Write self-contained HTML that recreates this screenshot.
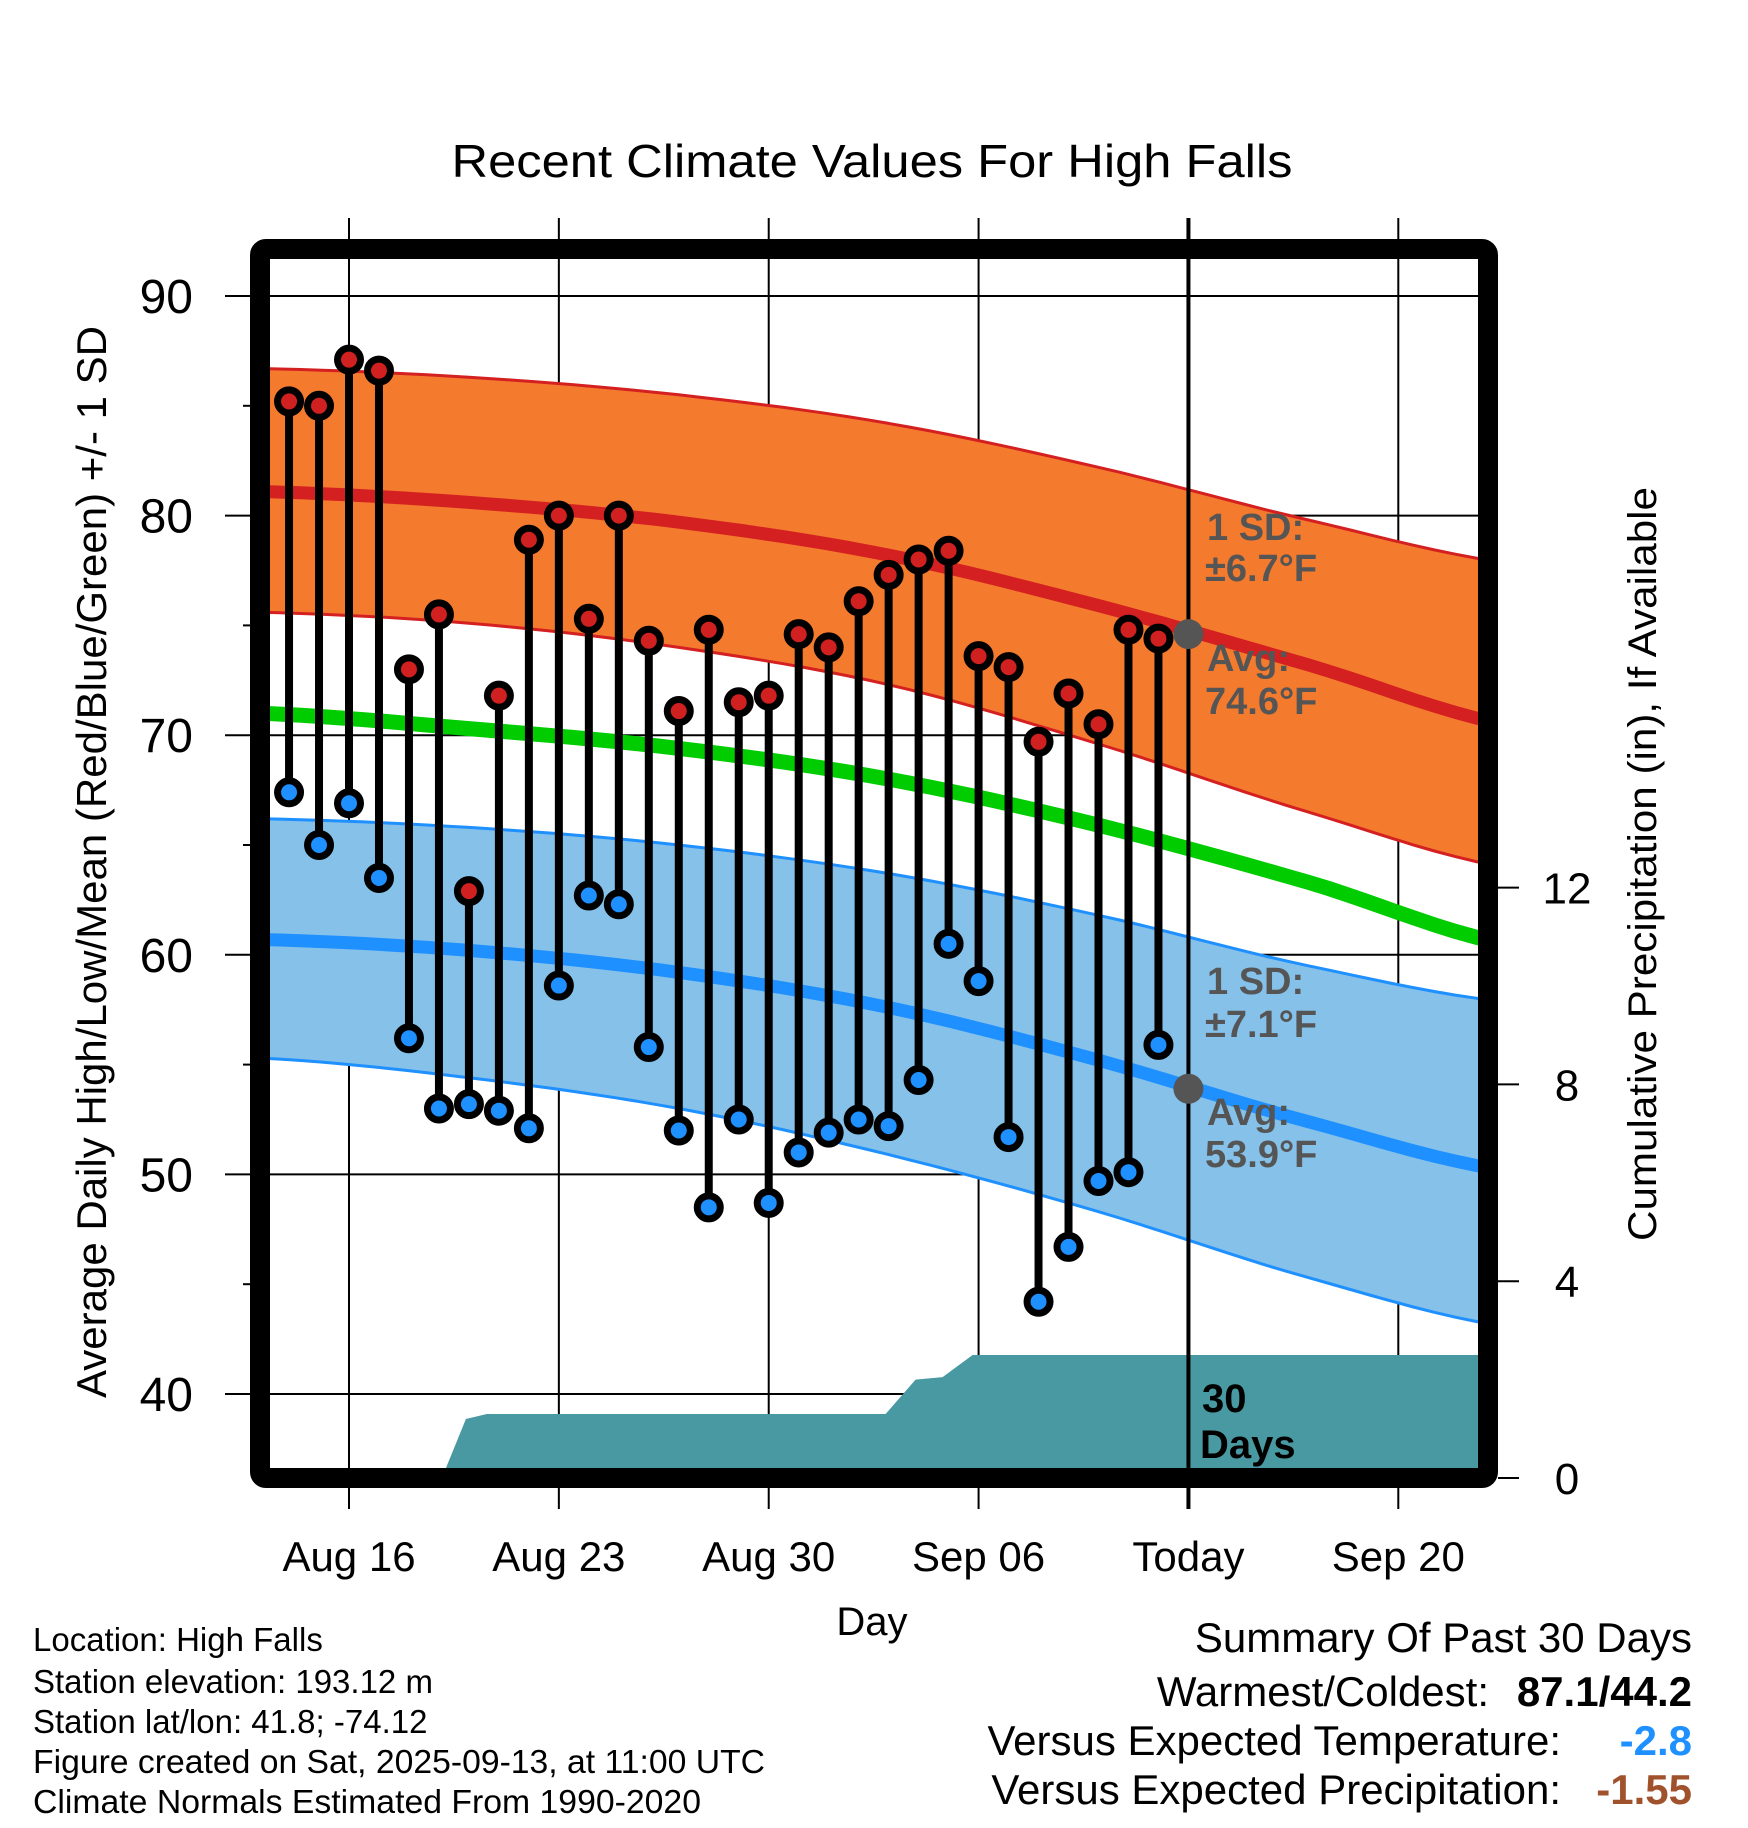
<!DOCTYPE html>
<html><head><meta charset="utf-8"><style>
html,body{margin:0;padding:0;background:#fff;}
svg{display:block;font-family:"Liberation Sans",Arial,sans-serif;}
</style></head><body>
<svg id="chart" width="1748" height="1828" viewBox="0 0 1748 1828" xmlns="http://www.w3.org/2000/svg">
<defs><clipPath id="plotclip"><rect x="270" y="260" width="1208" height="1208"/></clipPath></defs>
<text x="872" y="177" font-size="46" text-anchor="middle" textLength="841" lengthAdjust="spacingAndGlyphs">Recent Climate Values For High Falls</text>
<g id="grid"></g>
<g id="plot" clip-path="url(#plotclip)"></g>
<g id="marks"></g>
<rect x="260" y="249" width="1228" height="1229" rx="6" fill="none" stroke="#000" stroke-width="20"/>
<g id="axes"></g>
<text transform="translate(106,862) rotate(-90)" font-size="42" text-anchor="middle" textLength="1072" lengthAdjust="spacingAndGlyphs">Average Daily High/Low/Mean (Red/Blue/Green) +/- 1 SD</text>
<text transform="translate(1656,864) rotate(-90)" font-size="40" text-anchor="middle" textLength="754" lengthAdjust="spacingAndGlyphs">Cumulative Precipitation (in), If Available</text>
<text x="872" y="1635" font-size="40" text-anchor="middle">Day</text>
<g font-size="38" font-weight="bold" fill="#555">
<text x="1207" y="540">1 SD:</text><text x="1205" y="581">±6.7°F</text>
<text x="1207" y="671">Avg:</text><text x="1205" y="714">74.6°F</text></g>
<g font-size="38" font-weight="bold" fill="#555">
<text x="1207" y="994">1 SD:</text><text x="1205" y="1037">±7.1°F</text>
<text x="1207" y="1125">Avg:</text><text x="1205" y="1167">53.9°F</text></g>
<g font-size="40" font-weight="bold" fill="#000">
<text x="1202" y="1412">30</text><text x="1200" y="1458">Days</text></g>
<g font-size="33" fill="#000">
<text x="33" y="1651">Location: High Falls</text>
<text x="33" y="1693">Station elevation: 193.12 m</text>
<text x="33" y="1733">Station lat/lon: 41.8; -74.12</text>
<text x="33" y="1773" textLength="732" lengthAdjust="spacingAndGlyphs">Figure created on Sat, 2025-09-13, at 11:00 UTC</text>
<text x="33" y="1813" textLength="668" lengthAdjust="spacingAndGlyphs">Climate Normals Estimated From 1990-2020</text></g>
<g font-size="42" fill="#000">
<text x="1692" y="1652" text-anchor="end">Summary Of Past 30 Days</text>
<text x="1489" y="1706" text-anchor="end">Warmest/Coldest:</text>
<text x="1692" y="1706" text-anchor="end" font-weight="bold">87.1/44.2</text>
<text x="1561" y="1755" text-anchor="end">Versus Expected Temperature:</text>
<text x="1692" y="1755" text-anchor="end" font-weight="bold" fill="#1e90ff">-2.8</text>
<text x="1561" y="1804" text-anchor="end">Versus Expected Precipitation:</text>
<text x="1692" y="1804" text-anchor="end" font-weight="bold" fill="#a0522d">-1.55</text></g>
</svg>
<script>
// days measured from Aug 16 (0)
const dayIdx = [-2,-1,0,1,2,3,4,5,6,7,8,9,10,11,12,13,14,15,16,17,18,19,20,21,22,23,24,25,26,27];
const highs = [85.2,85.0,87.1,86.6,73.0,75.5,62.9,71.8,78.9,80.0,75.3,80.0,74.3,71.1,74.8,71.5,71.8,74.6,74.0,76.1,77.3,78.0,78.4,73.6,73.1,69.7,71.9,70.5,74.8,74.4];
const lows = [67.4,65.0,66.9,63.5,56.2,53.0,53.2,52.9,52.1,58.6,62.7,62.3,55.8,52.0,48.5,52.5,48.7,51.0,51.9,52.5,52.2,54.3,60.5,58.8,51.7,44.2,46.7,49.7,50.1,55.9];
const normDays = [-3,4,11,18,25,32,39];
const hiMean = [81.1,80.6,79.7,78.2,75.9,73.2,70.4];
const hiUpper = [86.7,86.3,85.5,84.2,82.2,79.8,77.8];
const hiLower = [75.6,75.1,74.0,72.3,69.6,66.5,63.9];
const meanLine = [71.0,70.3,69.4,68.0,65.9,63.3,60.4];
const loMean = [60.7,60.2,59.2,57.6,55.2,52.4,50.1];
const loUpper = [66.2,65.8,65.0,63.7,61.8,59.5,57.8];
const loLower = [55.3,54.4,53.0,50.9,48.3,45.3,43.0];
const precipDays = [-2.7,3.1,3.9,4.6,17.9,18.9,19.8,20.8,37.8];
const precipVals = [0,0,1.2,1.3,1.3,2.0,2.05,2.5,2.5];
const xTickDays = [0,7,14,21,28,35];
const xTickLabels = ["Aug 16","Aug 23","Aug 30","Sep 06","Today","Sep 20"];
const yTicks = [40,50,60,70,80,90];
const y2Ticks = [0,4,8,12];
const todayDay = 28;
const todayHigh = 74.6, todayLow = 53.9;

const NS="http://www.w3.org/2000/svg";
const x = d => 349 + d*29.98;
const y = v => 296 + (90 - v)*21.96;
const y2 = p => 1478 - p*49.2;
function mk(tag, attrs, parent){const e=document.createElementNS(NS,tag);for(const k in attrs)e.setAttribute(k,attrs[k]);parent.appendChild(e);return e;}
const grid=document.getElementById('grid'), plot=document.getElementById('plot'), marks=document.getElementById('marks'), axes=document.getElementById('axes');

function curvePts(arr){
  const pts=[];
  const n=normDays.length;
  for(let i=0;i<n-1;i++){
    const p0=arr[Math.max(i-1,0)],p1=arr[i],p2=arr[i+1],p3=arr[Math.min(i+2,n-1)];
    for(let s=0;s<10;s++){
      const t=s/10;
      const v=0.5*((2*p1)+(-p0+p2)*t+(2*p0-5*p1+4*p2-p3)*t*t+(-p0+3*p1-3*p2+p3)*t*t*t);
      const d=normDays[i]+(normDays[i+1]-normDays[i])*t;
      pts.push(x(d).toFixed(1)+','+y(v).toFixed(1));
    }
  }
  pts.push(x(normDays[n-1]).toFixed(1)+','+y(arr[n-1]).toFixed(1));
  return pts;
}
function bandPath(up,lo){const a=curvePts(up), b=curvePts(lo).reverse();return 'M'+a.join('L')+'L'+b.join('L')+'Z';}

let e;
e=mk('path',{d:bandPath(hiUpper,hiLower),fill:'#f47a2e'},plot);


e=mk('path',{d:bandPath(loUpper,loLower),fill:'#85c1e9'},plot);


[[hiUpper,'#d42020',3,'high-band-upper'],[hiLower,'#d42020',3,'high-band-lower'],[loUpper,'#1e90ff',3,'low-band-upper'],[loLower,'#1e90ff',3,'low-band-lower'],[hiMean,'#d42020',13,'normal-high-line'],[loMean,'#1e90ff',13,'normal-low-line'],[meanLine,'#00cc00',15,'normal-mean-line']].forEach(([arr,c,w,n])=>{
  const l=mk('polyline',{points:curvePts(arr).join(' '),fill:'none',stroke:c,'stroke-width':w},plot);
  
  
});
let pd='M'+x(precipDays[0])+','+y2(0);
precipDays.forEach((d,i)=>{pd+='L'+x(d).toFixed(1)+','+y2(precipVals[i]).toFixed(1);});
pd+='L'+x(precipDays[precipDays.length-1])+','+y2(0)+'Z';
e=mk('path',{d:pd,fill:'#4899a1'},plot);



yTicks.forEach(v=>{
  const g=mk('line',{x1:225,x2:1478,y1:y(v),y2:y(v),stroke:'#000','stroke-width':2},grid);
  
  
  const t=mk('text',{x:193,y:y(v)+17,'font-size':48,'text-anchor':'end'},axes);
  t.textContent=v;
  
  
});
[45,55,65,75,85].forEach(v=>{mk('line',{x1:243,x2:250,y1:y(v),y2:y(v),stroke:'#000','stroke-width':2},axes);});
xTickDays.forEach((d,i)=>{
  const isToday = d===todayDay;
  const g=mk('line',{x1:x(d),x2:x(d),y1:218,y2:1509,stroke:'#000','stroke-width':isToday?4:2},isToday?marks:grid);
  
  
  const t=mk('text',{x:x(d),y:1571,'font-size':42,'text-anchor':'middle'},axes);
  t.textContent=xTickLabels[i];
  
  
});
y2Ticks.forEach(p=>{
  mk('line',{x1:1498,x2:1519,y1:y2(p),y2:y2(p),stroke:'#000','stroke-width':2},axes);
  const t=mk('text',{x:1567,y:y2(p)+16,'font-size':44,'text-anchor':'middle'},axes);
  t.textContent=p;
  
  
});

dayIdx.forEach((d,i)=>{
  const cx=x(d);
  const s=mk('line',{x1:cx,x2:cx,y1:y(highs[i]),y2:y(lows[i]),stroke:'#000','stroke-width':8},marks);
  
  
});
dayIdx.forEach((d,i)=>{
  const cx=x(d);
  const h=mk('circle',{cx:cx,cy:y(highs[i]),r:11.5,fill:'#d02020',stroke:'#000','stroke-width':7},marks);
  
  
  const l=mk('circle',{cx:cx,cy:y(lows[i]),r:11.5,fill:'#1e90ff',stroke:'#000','stroke-width':7},marks);
  
  
});
e=mk('circle',{cx:x(todayDay),cy:y(todayHigh),r:15,fill:'#555'},marks);


e=mk('circle',{cx:x(todayDay),cy:y(todayLow),r:15,fill:'#555'},marks);


</script>
</body></html>
